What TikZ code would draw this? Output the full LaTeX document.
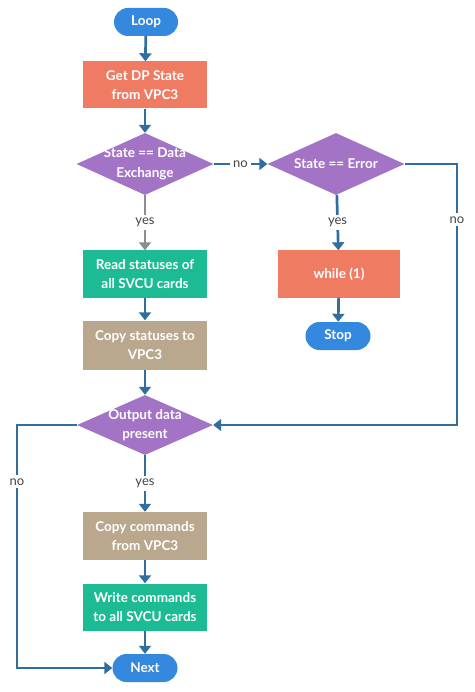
\documentclass[tikz,border=0pt]{standalone}
\usepackage{fontspec}
\setmainfont{Lato}
\usetikzlibrary{arrows.meta,shapes.geometric}
\definecolor{termblue}{HTML}{3488DE}
\definecolor{salmon}{HTML}{F07B63}
\definecolor{lilac}{HTML}{A374C5}
\definecolor{jade}{HTML}{1DBB94}
\definecolor{khaki}{HTML}{BAA88E}
\definecolor{flowblue}{HTML}{2F6E9E}
\definecolor{yngray}{HTML}{444444}
\tikzset{
	boxtext/.style={text=white, font=\fontsize{13.5}{19.5}\selectfont\bfseries, align=center},
	terminal/.style={boxtext, fill=termblue, rounded corners=14pt, minimum width=64pt, minimum height=28pt, inner sep=0pt},
	procbox/.style={boxtext, minimum width=124pt, minimum height=47pt, inner sep=0pt},
	decide/.style={diamond, fill=lilac, minimum width=137pt, minimum height=62pt, inner sep=0pt},
	dtext/.style={boxtext},
	flow/.style={draw=flowblue, line width=2.7pt, -{Triangle[width=12pt,length=8pt]}},
	yn/.style={fill=white, text=yngray, font=\fontsize{13}{15}\selectfont, inner sep=3pt}
}
\begin{document}
\begin{tikzpicture}[x=1pt, y=-1pt]
		%%%%% START %%%%%
		\useasboundingbox (0, 0) rectangle (474, 692);
		
		\node[terminal] (loop) at (146, 22) {Loop};
		\node[procbox, fill=salmon] (getdp) at (145, 85) {Get DP State\\from VPC3};
		\node[decide, label={[dtext]center:State == Data\\Exchange}] (dx) at (145, 164) {};
		\node[decide, label={[dtext]center:State == Error}] (derr) at (336, 164) {};
		
		\node[procbox, fill=salmon, minimum width=122pt] (spin) at (339, 274) {while (1)};
		\node[terminal, minimum width=65pt] (stop) at (338, 336) {Stop};
		
		\node[procbox, fill=jade] (read) at (145, 274) {Read statuses of\\all SVCU cards};
		\node[procbox, fill=khaki, minimum height=49pt] (copyst) at (145, 345) {Copy statuses to\\VPC3};
		\node[decide, minimum width=136pt, minimum height=60pt, label={[dtext]center:Output data\\present}] (dout) at (145, 425) {};
		\node[procbox, fill=khaki, minimum height=48pt] (copycmd) at (145, 536) {Copy commands\\from VPC3};
		\node[procbox, fill=jade] (write) at (145, 607) {Write commands\\to all SVCU cards};
		\node[terminal, minimum width=65pt] (next) at (145, 668) {Next};
		
		\coordinate (rturn) at (457, 164);
		\coordinate (lturn) at (17, 425);
		
		%%%%% CONNECTORS %%%%%
		\draw[flow] (loop) -- (getdp);
		\draw[flow] (getdp) -- (dx);
		\draw[flow] (dx) -- node[yn] {no} (derr);
		\draw[flow, draw=gray!90] (dx) -- node[yn] {yes} (read);
		\draw[flow] (derr) -- node[yn] {yes} (spin);
		\draw[flow] (spin) -- (stop);
		\draw[flow] (derr.east) -- (rturn) |- node[yn, pos=0.107] {no} (dout.east);
		\draw[flow] (read) -- (copyst);
		\draw[flow] (copyst) -- (dout);
		\draw[flow] (dout) -- node[yn] {yes} (copycmd);
		\draw[flow] (dout.west) -- (lturn) |- node[yn, pos=0.117] {no} (next.west);
		\draw[flow] (copycmd) -- (write);
		\draw[flow] (write) -- (next);
		
		%%%%% END %%%%%
	\end{tikzpicture}
\end{document}
